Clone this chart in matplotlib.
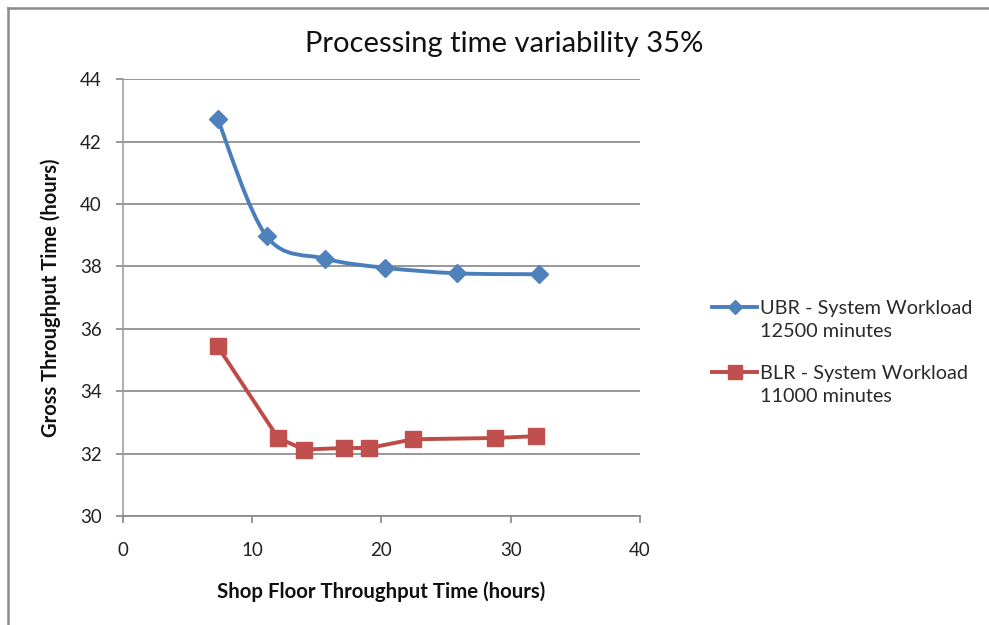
import matplotlib
matplotlib.use("Agg")
import matplotlib.pyplot as plt
from matplotlib.path import Path
from matplotlib.patches import PathPatch
from matplotlib.lines import Line2D
import numpy as np

plt.rcParams['font.family'] = ['Lato', 'DejaVu Sans']

ubr_x = [7.34, 11.12, 15.68, 20.25, 25.87, 32.2]
ubr_y = [42.73, 38.97, 38.25, 37.96, 37.78, 37.75]
blr_x = [7.34, 12.02, 14.02, 17.12, 19.05, 22.45, 28.75, 31.97]
blr_y = [35.44, 32.5, 32.13, 32.18, 32.18, 32.46, 32.5, 32.56]
ubr_label = "UBR - System Workload\n12500 minutes"
blr_label = "BLR - System Workload\n11000 minutes"
title = "Processing time variability 35%"
xlabel = "Shop Floor Throughput Time (hours)"
ylabel = "Gross Throughput Time (hours)"
xticks = [0, 10, 20, 30, 40]
yticks = [30, 32, 34, 36, 38, 40, 42, 44]

blue_line = '#4A7EBB'
blue_mk = '#4F81BD'
red_line = '#BE4B48'
red_mk = '#C0504D'
grid_c = '#868686'

W, H = 989, 625
fig = plt.figure(figsize=(W/100, H/100), dpi=100)
ax = fig.add_axes([122.7/W, 1-516/H, (640-122.7)/W, (516-79.3)/H])


def smooth_path(xs, ys):
    pts = np.column_stack([xs, ys])
    n = len(pts)
    verts = [pts[0]]
    codes = [Path.MOVETO]
    for i in range(n-1):
        p0 = pts[i-1] if i > 0 else pts[i]
        p1 = pts[i]
        p2 = pts[i+1]
        p3 = pts[i+2] if i+2 < n else pts[i+1]
        c1 = p1 + (p2 - p0) / 6.0
        c2 = p2 - (p3 - p1) / 6.0
        verts += [c1, c2, p2]
        codes += [Path.CURVE4]*3
    return Path(verts, codes)


ax.add_patch(PathPatch(smooth_path(ubr_x, ubr_y), fill=False, edgecolor=blue_line,
                       lw=2.8, capstyle='round', joinstyle='round', zorder=3))
ax.plot(ubr_x, ubr_y, linestyle='none', marker='D', ms=9.5, color=blue_mk, zorder=4)
ax.plot(blr_x, blr_y, color=red_line, lw=2.8, solid_joinstyle='round', zorder=3)
ax.plot(blr_x, blr_y, linestyle='none', marker='s', ms=11, color=red_mk, zorder=4)

ax.set_xlim(0, 40)
ax.set_ylim(30, 44)
ax.set_xticks(xticks)
ax.set_yticks(yticks)
ax.yaxis.grid(True, color=grid_c, lw=1.2)
ax.set_axisbelow(True)
for s in ['top', 'right']:
    ax.spines[s].set_visible(False)
ax.spines['left'].set_color('#A0A0A0')
ax.spines['bottom'].set_color(grid_c)
ax.spines['left'].set_linewidth(1.2)
ax.spines['bottom'].set_linewidth(1.2)
ax.tick_params(axis='both', direction='out', length=5, width=1.2, color=grid_c,
               labelsize=13.5, labelcolor='#222222')
ax.tick_params(axis='y', pad=10)
ax.tick_params(axis='x', pad=14)

ax.set_xlabel(xlabel, fontsize=14.7, fontweight='bold', labelpad=16, color='#111111')
ax.set_ylabel(ylabel, fontsize=14.5, fontweight='bold', labelpad=14, color='#111111')

fig.text(504/W, 1-44/H, title, ha='center', va='center', fontsize=21, color='#111111')

# legend
for (ly, col_l, col_m, mk, ms, lab) in [(307, blue_line, blue_mk, 'D', 7, ubr_label),
                                         (372, red_line, red_mk, 's', 10, blr_label)]:
    fig.add_artist(Line2D([712/W, 757/W], [1-ly/H, 1-ly/H], transform=fig.transFigure,
                          color=col_l, lw=2.8))
    fig.add_artist(Line2D([734.5/W], [1-ly/H], transform=fig.transFigure,
                          marker=mk, ms=ms, color=col_m, linestyle='none'))
    fig.text(760/W, 1-(ly-7)/H, lab, ha='left', va='top', fontsize=14.3,
             color='#2a2a2a', linespacing=1.45)

# outer border (top and left)
fig.add_artist(Line2D([7.5/W, 1], [1-7.5/H, 1-7.5/H], transform=fig.transFigure,
                      color='#8A8A8A', lw=1.8))
fig.add_artist(Line2D([7.5/W, 7.5/W], [0, 1-7.5/H], transform=fig.transFigure,
                      color='#8A8A8A', lw=1.8))

fig.savefig('out.png', dpi=100)
